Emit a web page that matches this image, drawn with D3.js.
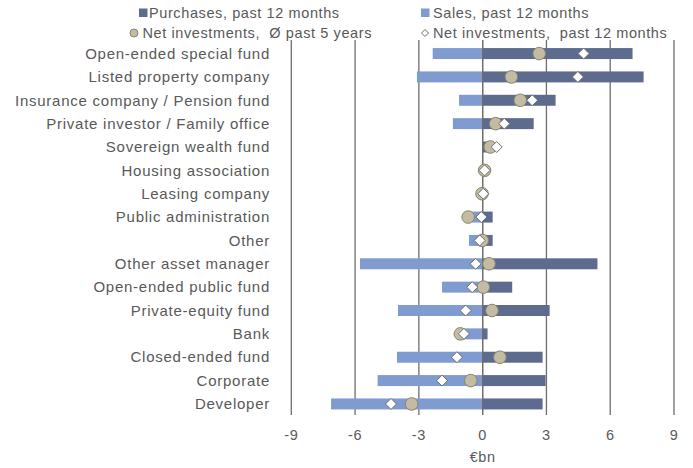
<!DOCTYPE html>
<html>
<head>
<meta charset="utf-8">
<script src="https://cdn.jsdelivr.net/npm/d3@7"></script>
<style>
  body { margin: 0; background: #fff; }
  text { font-family: "Liberation Sans", Arial, sans-serif; letter-spacing: 0.6px; }
  .cat { letter-spacing: 0.75px; }
</style>
</head>
<body>
<svg></svg>
<script>
// data (EUR bn)
const categories = [
  "Open-ended special fund", "Listed property company", "Insurance company / Pension fund",
  "Private investor / Family office", "Sovereign wealth fund", "Housing association",
  "Leasing company", "Public administration", "Other", "Other asset manager",
  "Open-ended public fund", "Private-equity fund", "Bank", "Closed-ended fund",
  "Corporate", "Developer"
];
const purchases = [7.05, 7.57, 3.43, 2.40, 0.50, 0.05, 0.02, 0.47, 0.47, 5.40, 1.39, 3.15, 0.23, 2.82, 2.96, 2.82];
const sales     = [-2.35, -3.09, -1.11, -1.40, -0.02, -0.02, -0.02, -0.56, -0.64, -5.77, -1.91, -3.98, -1.07, -4.03, -4.94, -7.13];
const net5y     = [2.66, 1.35, 1.77, 0.61, 0.36, 0.09, -0.03, -0.68, -0.02, 0.30, 0.03, 0.44, -1.05, 0.81, -0.56, -3.34];
const net12m    = [4.75, 4.48, 2.33, 1.02, 0.66, 0.09, 0.03, -0.06, -0.14, -0.33, -0.49, -0.80, -0.88, -1.21, -1.91, -4.31];
const xTicks = [-9, -6, -3, 0, 3, 6, 9];

const width = 693, height = 468;
const colPurch = "#5c6b8e", colSales = "#7f9bd0";
const colCircle = "#c3bba2", colCircleStroke = "#8a8570";
const textCol = "#595959";
const fs = 14.5;

const svg = d3.select("svg").attr("width", width).attr("height", height);

const x = d3.scaleLinear().domain([-9, 9]).range([291.3, 674]);
const y = d3.scaleBand().domain(categories).range([42, 415.5]).paddingInner(0.53).paddingOuter(0.26);

// gridlines
svg.append("g").selectAll("line")
  .data(xTicks)
  .join("line")
  .attr("x1", d => x(d)).attr("x2", d => x(d))
  .attr("y1", 40).attr("y2", 415)
  .attr("stroke", "#6e6e6e").attr("stroke-width", 1.3);

// bars
svg.append("g").selectAll("rect")
  .data(categories)
  .join("rect")
  .attr("x", (d, i) => x(sales[i]))
  .attr("width", (d, i) => x(0) - x(sales[i]))
  .attr("y", d => y(d)).attr("height", y.bandwidth())
  .attr("fill", colSales);

svg.append("g").selectAll("rect")
  .data(categories)
  .join("rect")
  .attr("x", x(0))
  .attr("width", (d, i) => x(purchases[i]) - x(0))
  .attr("y", d => y(d)).attr("height", y.bandwidth())
  .attr("fill", colPurch);

// zero line above bars
svg.append("line")
  .attr("x1", x(0)).attr("x2", x(0)).attr("y1", 40).attr("y2", 415)
  .attr("stroke", "#6e6e6e").attr("stroke-width", 1.3);

const cy = d => y(d) + y.bandwidth() / 2;

// net 5y circles
svg.append("g").selectAll("circle")
  .data(categories)
  .join("circle")
  .attr("cx", (d, i) => x(net5y[i]))
  .attr("cy", cy)
  .attr("r", 6.3)
  .attr("fill", colCircle).attr("stroke", colCircleStroke).attr("stroke-width", 1);

// net 12m diamonds
const diamond = "M0,-5.5L5.5,0L0,5.5L-5.5,0Z";
svg.append("g").selectAll("path")
  .data(categories)
  .join("path")
  .attr("transform", (d, i) => `translate(${x(net12m[i])},${cy(d)})`)
  .attr("d", diamond)
  .attr("fill", "#fff").attr("stroke", "#6e6e6e").attr("stroke-width", 1);

// category labels
svg.append("g").selectAll("text")
  .data(categories)
  .join("text")
  .attr("class", "cat")
  .attr("x", 270)
  .attr("y", cy)
  .attr("dy", "0.35em")
  .attr("text-anchor", "end")
  .attr("font-size", 15)
  .attr("fill", textCol)
  .text(d => d);

// x tick labels
svg.append("g").selectAll("text")
  .data(xTicks)
  .join("text")
  .attr("x", d => x(d))
  .attr("y", 435)
  .attr("dy", "0.35em")
  .attr("text-anchor", "middle")
  .attr("font-size", fs)
  .attr("fill", textCol)
  .text(d => d);

svg.append("text")
  .attr("x", x(0)).attr("y", 457).attr("dy", "0.35em")
  .attr("text-anchor", "middle").attr("font-size", fs).attr("fill", textCol)
  .text("€bn");

// legend
const legend = svg.append("g").attr("font-size", fs);
legend.append("rect").attr("x", 139).attr("y", 8.5).attr("width", 8.5).attr("height", 8.5).attr("fill", colPurch);
legend.append("text").attr("x", 149).attr("y", 12.7).attr("dy", "0.35em").attr("fill", textCol).text("Purchases, past 12 months");
legend.append("rect").attr("x", 421).attr("y", 8.5).attr("width", 8.5).attr("height", 8.5).attr("fill", colSales);
legend.append("text").attr("x", 433).attr("y", 12.7).attr("dy", "0.35em").attr("fill", textCol).text("Sales, past 12 months");
legend.append("circle").attr("cx", 134).attr("cy", 33).attr("r", 4)
  .attr("fill", colCircle).attr("stroke", colCircleStroke);
legend.append("text").attr("x", 142.5).attr("y", 33).attr("dy", "0.35em").attr("fill", textCol)
  .style("white-space", "pre").text("Net investments,  Ø past 5 years");
legend.append("path").attr("transform", "translate(425,33)").attr("d", "M0,-3.5L3.5,0L0,3.5L-3.5,0Z")
  .attr("fill", "#fff").attr("stroke", "#6e6e6e");
legend.append("text").attr("x", 433).attr("y", 33).attr("dy", "0.35em").attr("fill", textCol)
  .style("white-space", "pre").text("Net investments,  past 12 months");
</script>
</body>
</html>
